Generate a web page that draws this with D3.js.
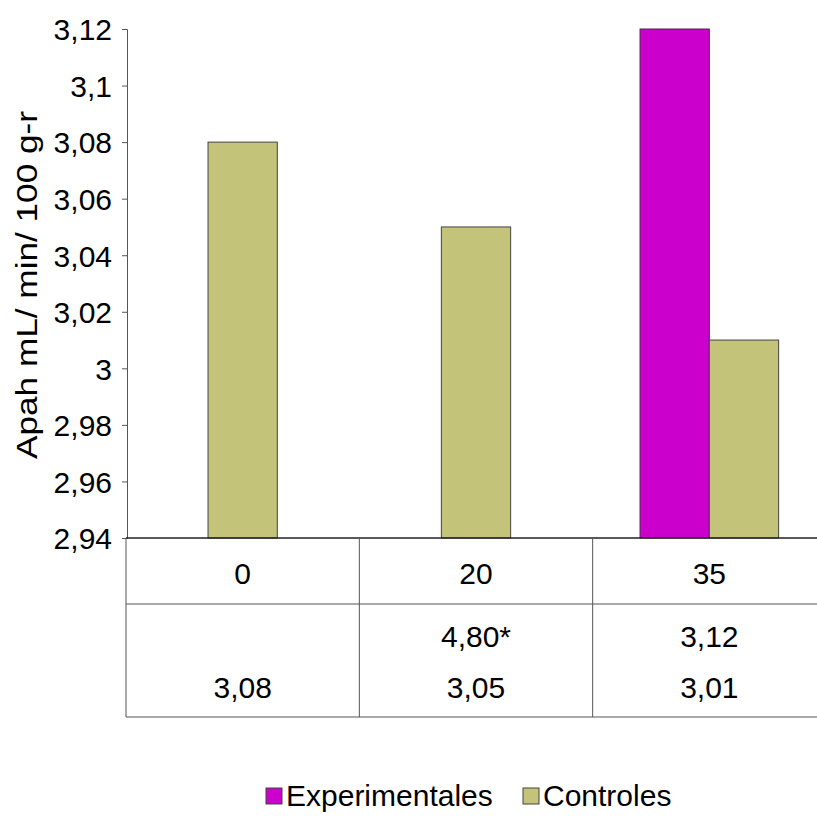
<!DOCTYPE html>
<html><head><meta charset="utf-8">
<script src="https://cdn.jsdelivr.net/npm/d3@7"></script>
<style>body{margin:0;background:#fff}svg{display:block}text{font-family:"Liberation Sans",Arial,sans-serif;fill:#000}</style>
</head><body><svg id="c" width="817" height="816"></svg>
<script>
const categories = ["0", "20", "35"];
const seriesNames = ["Experimentales", "Controles"];
const experimentales = [null, 4.80, 3.12];
const controles = [3.08, 3.05, 3.01];
const tableExp = ["", "4,80*", "3,12"];
const tableCtl = ["3,08", "3,05", "3,01"];
const yTicks = [2.94, 2.96, 2.98, 3.00, 3.02, 3.04, 3.06, 3.08, 3.10, 3.12];
const colors = ["#CC00CC", "#C3C37A"];

(function () {
const svg = d3.select("#c");
const pLeft = 126, pRight = 826, pTop = 29, pBase = 538;
const yMin = 2.94, yMax = 3.12;
const y = d3.scaleLinear().domain([yMin, yMax]).range([pBase, pTop]);
const x = d3.scaleBand().domain(categories).range([pLeft, pRight]);
const fmt = v => d3.format(".2f")(v).replace(/0+$/, "").replace(/\.$/, "").replace(".", ",");
const FS = 30;

// y axis
const ax = svg.append("g").attr("transform", `translate(${pLeft + 1},0)`)
  .call(d3.axisLeft(y).tickValues(yTicks).tickSize(5).tickPadding(10).tickFormat(fmt));
ax.select(".domain").attr("stroke", "#555");
ax.selectAll(".tick line").attr("stroke", "#555");
ax.selectAll(".tick text").attr("font-size", FS).attr("font-family", '"Liberation Sans",Arial,sans-serif').attr("dy", "0.36em");

// y title
svg.append("text").attr("transform", "translate(37,285) rotate(-90)")
  .attr("text-anchor", "middle").attr("font-size", FS)
  .attr("textLength", 348).attr("lengthAdjust", "spacingAndGlyphs")
  .text("Apah mL/ min/ 100 g-r");

// bars
const series = [experimentales, controles];
const bw = x.bandwidth() * 0.297;
categories.forEach((c, i) => {
  const vis = [];
  series.forEach((s, k) => { const v = s[i]; if (v != null && v <= yMax) vis.push({k, v}); });
  const start = x(c) + x.bandwidth() / 2 - vis.length * bw / 2;
  vis.forEach((d, j) => {
    svg.append("rect").attr("x", start + j * bw).attr("y", y(d.v))
      .attr("width", bw).attr("height", y(yMin) - y(d.v))
      .attr("fill", colors[d.k]).attr("stroke", d.k === 0 ? "#552255" : "#444").attr("stroke-width", 1);
  });
});

// data table
const r1 = pBase, r2 = 604, r3 = 717;
const g = svg.append("g").attr("stroke", "#555").attr("stroke-width", 1);
g.append("line").attr("x1", pLeft).attr("x2", pRight).attr("y1", r1).attr("y2", r1).attr("stroke", "#222").attr("stroke-width", 1.5);
g.append("line").attr("x1", pLeft).attr("x2", pRight).attr("y1", r2).attr("y2", r2);
g.append("line").attr("x1", pLeft).attr("x2", pRight).attr("y1", r3).attr("y2", r3);
[...categories.map(c => x(c)), pRight].forEach(xx => {
  g.append("line").attr("x1", xx).attr("x2", xx).attr("y1", r1).attr("y2", r3);
});
categories.forEach((c, i) => {
  const cx = x(c) + x.bandwidth() / 2;
  svg.append("text").attr("x", cx).attr("y", 584).attr("text-anchor", "middle").attr("font-size", FS).text(c);
  svg.append("text").attr("x", cx).attr("y", 647).attr("text-anchor", "middle").attr("font-size", FS).text(tableExp[i]);
  svg.append("text").attr("x", cx).attr("y", 698).attr("text-anchor", "middle").attr("font-size", FS).text(tableCtl[i]);
});

// legend
const legX = [266, 523];
seriesNames.forEach((n, k) => {
  svg.append("rect").attr("x", legX[k]).attr("y", 788).attr("width", 16).attr("height", 16)
    .attr("fill", colors[k]).attr("stroke", "#444").attr("stroke-width", 1);
  svg.append("text").attr("x", legX[k] + 20).attr("y", 806).attr("font-size", FS).text(n);
});
})();
</script></body></html>
